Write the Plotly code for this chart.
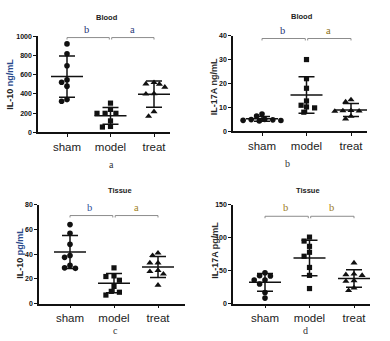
import math
import plotly.graph_objects as go

# ---- data -------------------------------------------------------------
groups = ["sham", "model", "treat"]

# Blood IL-10 (ng/mL)
blood_il10_sham = [921, 819, 693, 546, 522, 481, 341, 324]
blood_il10_model = [304, 239, 198, 198, 198, 119, 55, 61]
blood_il10_treat = [502, 471, 505, 519, 403, 399, 215, 167]

# Blood IL-17A (ng/mL)
blood_il17_sham = [7.2, 6.4, 5.0, 4.8, 4.6, 4.3, 4.5, 4.9]
blood_il17_model = [30, 22, 18, 12.7, 10.2, 10.9, 9.8, 8.0]
blood_il17_treat = [13.2, 12.3, 8.7, 8.6, 8.5, 8.4, 6.3, 5.2]

# Tissue IL-10 (pg/mL)
tissue_il10_sham = [64, 57, 48, 39, 37.5, 31, 28.6, 29]
tissue_il10_model = [29, 22, 22.5, 19, 14, 10, 9.3, 7]
tissue_il10_treat = [41, 39, 33, 33, 27, 26, 24, 15]

# Tissue IL-17A (pg/mL)
tissue_il17_sham = [47, 42.5, 42, 36, 36, 30, 17, 8.5]
tissue_il17_model = [101, 95, 87, 78, 72, 55, 43, 23]
tissue_il17_treat = [62, 45, 44, 43, 35, 34, 24, 20]

y_max = [1000, 40, 80, 150]
y_dtick = [200, 10, 20, 50]
titles = ["Blood", "Blood", "Tissue", "Tissue"]
ylabels = [("IL-10 ", "ng/mL"), ("IL-17A ", "ng/mL"), ("IL-10 ", "pg/mL"), ("IL-17A ", "pg/mL")]
panel_letters = ["a", "b", "c", "d"]
sig_letters = [("b", "a"), ("b", "a"), ("b", "a"), ("b", "b")]
bracket_level = [987, 38.8, 71.3, 132.6]

panels = [
    [blood_il10_sham, blood_il10_model, blood_il10_treat],
    [blood_il17_sham, blood_il17_model, blood_il17_treat],
    [tissue_il10_sham, tissue_il10_model, tissue_il10_treat],
    [tissue_il17_sham, tissue_il17_model, tissue_il17_treat],
]

# ---- layout geometry (pixels) -----------------------------------------
W, H = 390, 341
# (x_left, x_right, y_top, y_bottom) of each plot area in pixels
boxes = [(38, 170, 33, 131), (233, 367, 32.3, 130), (39, 185, 205, 306), (233, 370, 205, 306)]
cat_px = [(67, 154), (262, 351), (70, 158), (265, 354)]  # sham / treat centre x
title_px = [(107, 14), (302, 13), (120, 190), (308, 190)]
ylab_px = [(10.5, 82), (214, 85), (20, 255), (215, 252)]
letter_px = [(111, 164), (287, 163), (115, 333), (305, 333)]
unit_colors = ["#2a4a8c", "#333333", "#2a4a8c", "#333333"]
sig_colors = [("#1f3272", "#2b3b7a"), ("#1f3272", "#8a6d12"), ("#2c4f9a", "#a0801a"), ("#9a7a22", "#9a7a22")]

symbols = ["circle", "square", "triangle-up"]
sizes = [5.6, 5.2, 6.2]
SANS = "Liberation Sans"
SERIF = "Liberation Serif"


def swarm(vals, px_per_unit, px_per_cat, d=5.6, step=2.7):
    """Spread points sideways so markers with close values do not overlap."""
    order = sorted(range(len(vals)), key=lambda i: -vals[i])
    cands = [0.0] + [s * j * step for j in range(1, 12) for s in (-1, 1)]
    placed, offs = [], [0.0] * len(vals)
    for i in order:
        ypx = vals[i] * px_per_unit
        chosen = cands[-1]
        for c in cands:
            if all((c - px) ** 2 + (ypx - py) ** 2 >= d * d for px, py in placed):
                chosen = c
                break
        placed.append((chosen, ypx))
        offs[i] = chosen / px_per_cat
    return offs


def mean_sd(v):
    m = sum(v) / len(v)
    sd = math.sqrt(sum((x - m) ** 2 for x in v) / (len(v) - 1))
    return m, sd


fig = go.Figure()
layout = dict(
    width=W, height=H, margin=dict(l=0, r=0, t=0, b=0),
    paper_bgcolor="white", plot_bgcolor="white", showlegend=False,
    annotations=[], shapes=[],
)

for p, data in enumerate(panels):
    xl, xr, yt, yb = boxes[p]
    c0, c2 = cat_px[p]
    px_cat = (c2 - c0) / 2.0
    xr_lo = (xl - c0) / px_cat
    xr_hi = (xr - c0) / px_cat
    px_unit = (yb - yt) / y_max[p]
    xa = "x" if p == 0 else f"x{p + 1}"
    ya = "y" if p == 0 else f"y{p + 1}"
    xkey = "xaxis" if p == 0 else f"xaxis{p + 1}"
    ykey = "yaxis" if p == 0 else f"yaxis{p + 1}"

    layout[xkey] = dict(
        domain=[xl / W, xr / W], range=[xr_lo, xr_hi], anchor=ya,
        tickvals=[0, 1, 2], ticktext=groups, ticks="outside", ticklen=3,
        tickwidth=1.3, tickcolor="#111", showline=True, linewidth=1.5,
        linecolor="#111", showgrid=False, zeroline=False,
        tickfont=dict(family=SANS, size=11.5, color="#222"), fixedrange=True,
    )
    layout[ykey] = dict(
        domain=[1 - yb / H, 1 - yt / H], range=[0, y_max[p]], anchor=xa,
        dtick=y_dtick[p], tick0=0, ticks="outside", ticklen=3, tickwidth=1.3,
        tickcolor="#111", showline=True, linewidth=1.5, linecolor="#111",
        showgrid=False, zeroline=False,
        tickfont=dict(family=SANS, size=7, color="#111", weight="bold"),
        fixedrange=True,
    )

    for g, vals in enumerate(data):
        offs = swarm(vals, px_unit, px_cat)
        fig.add_trace(go.Scatter(
            x=[g + o for o in offs], y=vals, mode="markers", xaxis=xa, yaxis=ya,
            marker=dict(symbol=symbols[g], size=sizes[g], color="#111",
                        line=dict(width=0)),
            cliponaxis=False, hoverinfo="skip",
        ))
        m, sd = mean_sd(vals)
        mw = 16 / px_cat
        cw = 8 / px_cat
        line_style = dict(color="#111", width=1.5)
        for xs, ys in (
            ([g - mw, g + mw], [m, m]),
            ([g - cw, g + cw], [m + sd, m + sd]),
            ([g - cw, g + cw], [m - sd, m - sd]),
            ([g, g], [m - sd, m + sd]),
        ):
            fig.add_trace(go.Scatter(x=xs, y=ys, mode="lines", xaxis=xa, yaxis=ya,
                                     line=line_style, cliponaxis=False,
                                     hoverinfo="skip"))

    # significance brackets
    lvl = bracket_level[p]
    tick = 2 / px_unit
    gap = 1.2 / px_cat
    for a0, a1 in ((0, 1 - gap), (1 + gap, 2)):
        layout["shapes"].append(dict(
            type="path", xref=xa, yref=ya,
            path=f"M {a0},{lvl - tick} L {a0},{lvl} L {a1},{lvl} L {a1},{lvl - tick}",
            line=dict(color="#8c8c8c", width=1),
        ))
    for k, (lx, lt) in enumerate(((0.45, sig_letters[p][0]), (1.5, sig_letters[p][1]))):
        layout["annotations"].append(dict(
            x=lx, y=lvl, xref=xa, yref=ya, text=lt, showarrow=False,
            yanchor="bottom", yshift=1,
            font=dict(family=SERIF, size=10.5, color=sig_colors[p][k]),
        ))

    # panel title
    tx, ty = title_px[p]
    layout["annotations"].append(dict(
        x=tx / W, y=1 - ty / H, xref="paper", yref="paper", text=titles[p],
        showarrow=False, xanchor="center", yanchor="middle",
        font=dict(family=SANS, size=7.5, color="#222", weight="bold"),
    ))
    # y-axis title
    lx, ly = ylab_px[p]
    name, unit = ylabels[p]
    layout["annotations"].append(dict(
        x=lx / W, y=1 - ly / H, xref="paper", yref="paper", textangle=-90,
        text=f"{name}<span style='color:{unit_colors[p]}'>{unit}</span>",
        showarrow=False, xanchor="center", yanchor="middle",
        font=dict(family=SANS, size=9, color="#222", weight="bold"),
    ))
    # panel letter
    px_, py_ = letter_px[p]
    layout["annotations"].append(dict(
        x=px_ / W, y=1 - py_ / H, xref="paper", yref="paper", text=panel_letters[p],
        showarrow=False, xanchor="center", yanchor="middle",
        font=dict(family=SERIF, size=10, color="#333"),
    ))

fig.update_layout(**layout)
fig.write_html("out.html")
